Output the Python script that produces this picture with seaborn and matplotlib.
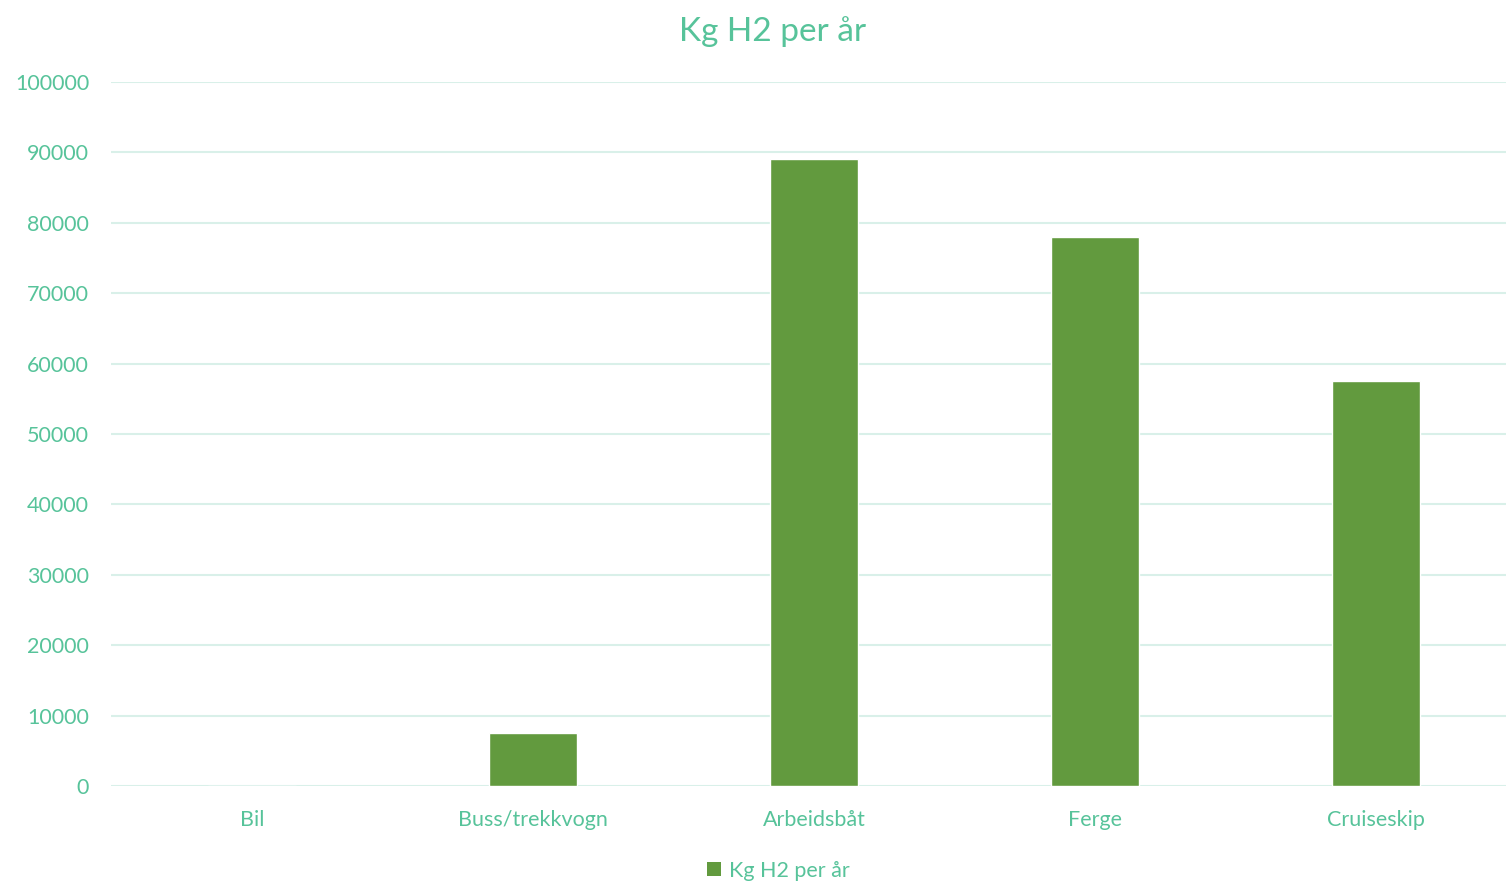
import pandas as pd
import numpy as np
import seaborn as sns
import matplotlib.pyplot as plt
from matplotlib.patches import Patch

categories = ['Bil', 'Buss/trekkvogn', 'Arbeidsbåt', 'Ferge', 'Cruiseskip']
values = [0, 7500, 89000, 78000, 57600]
series_name = 'Kg H2 per år'

text_color = '#57C39A'
bar_color = '#629A3E'
grid_color = '#D9F0E9'

df = pd.DataFrame({'kategori': categories, 'kg': values})

sns.set_style('white')
plt.rcParams['font.family'] = ['Lato', 'DejaVu Sans']

fig = plt.figure(figsize=(15.06, 8.85), dpi=100)
ax = fig.add_axes([0.074, 0.1119, 0.933, 0.7954])

sns.barplot(ax=ax, data=df, x='kategori', y='kg', color=bar_color,
            width=0.316, saturation=1)

ax.set_ylim(0, 100000)
ax.set_xlim(-0.5, 4.5)
ax.set_yticks(np.arange(0, 100001, 10000))
ax.yaxis.grid(True, color=grid_color, linewidth=1.5)
ax.set_axisbelow(True)
for s in ax.spines.values():
    s.set_visible(False)
ax.tick_params(axis='both', length=0, labelsize=15.5, colors=text_color)
ax.tick_params(axis='y', pad=16)
ax.tick_params(axis='x', pad=17)
ax.set_xlabel('')
ax.set_ylabel('')

fig.suptitle(series_name, y=0.982, fontsize=24, color=text_color, x=0.513, va='top')

handle = Patch(facecolor=bar_color, edgecolor='none')
fig.legend([handle], [series_name], loc='center', bbox_to_anchor=(0.517, 0.016),
           frameon=False, fontsize=15.5, labelcolor=text_color,
           handlelength=0.65, handleheight=0.65, handletextpad=0.35)

fig.savefig('out.png', dpi=100)
